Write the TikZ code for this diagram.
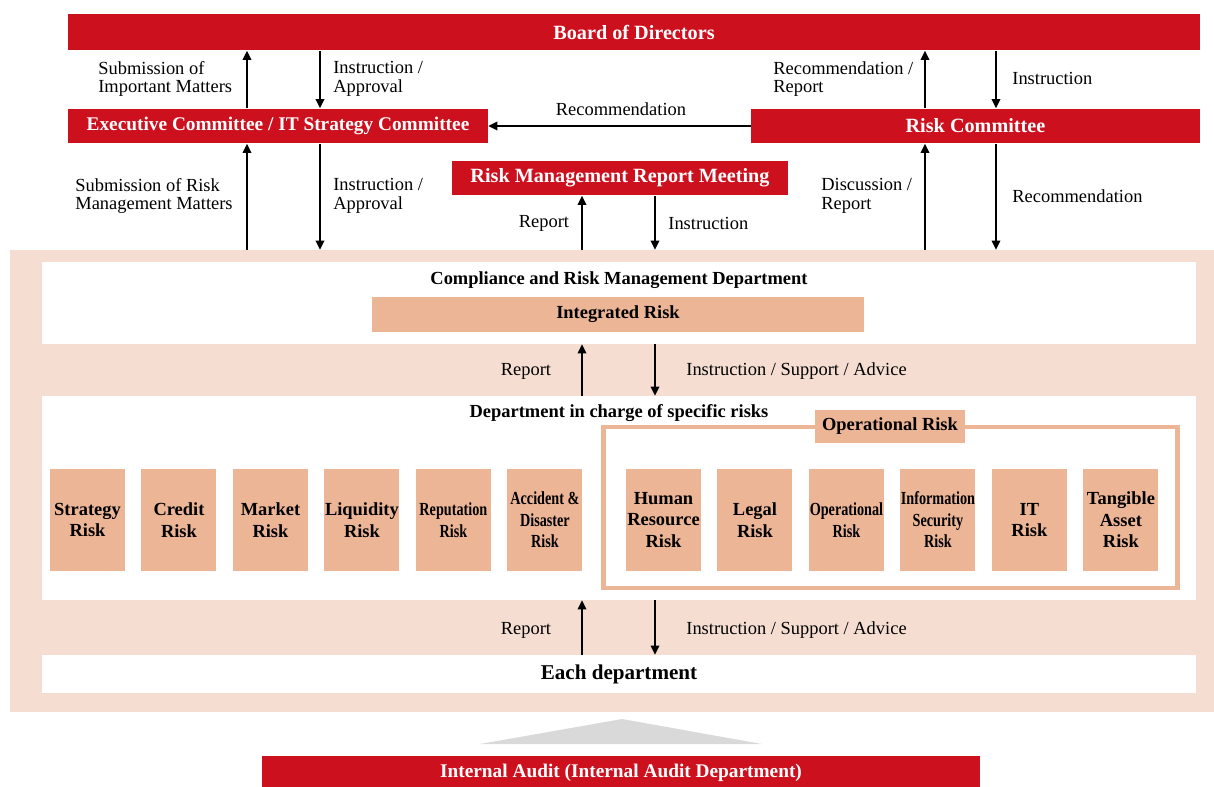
\documentclass[tikz,border=0pt]{standalone}
\usepackage{fontspec}
\setmainfont{Liberation Serif}
\newfontfamily\narrowserif[FakeStretch=0.77]{Liberation Serif}
\usetikzlibrary{arrows.meta}
\usetikzlibrary{positioning}
\definecolor{boardred}{RGB}{205,16,30}
\definecolor{riskpeach}{RGB}{236,181,150}
\definecolor{bgpeach}{RGB}{245,222,209}
\definecolor{auditgray}{RGB}{217,217,217}
\tikzset{%
  flow/.style = {-{Triangle[length=5.2pt,width=5pt]},line width=0.7pt},
  redbar/.style = {rectangle,fill=boardred,text=white,inner sep=0pt,
        font=\fontsize{11.5pt}{13pt}\selectfont\bfseries},
  panel/.style = {rectangle,fill=white,inner sep=0pt,minimum width=23.08cm},
  riskbox/.style = {rectangle,fill=riskpeach,inner sep=0pt,outer sep=0pt,align=center,
        minimum width=1.5cm,minimum height=2.04cm,
        font=\fontsize{10.5pt}{12.2pt}\selectfont\bfseries},
  lbl/.style = {inner sep=0pt,align=left,
        font=\fontsize{10.5pt}{10.5pt}\selectfont},
  head/.style = {inner sep=0pt,font=\fontsize{10.5pt}{12pt}\selectfont\bfseries}
}

\begin{document}
\begin{tikzpicture}[x=0.02cm,y=-0.02cm,node distance=0.33cm]
   \useasboundingbox (0,0) rectangle (1214,787);
   % columns of the vertical arrows
   \coordinate (colA) at (247,0);
   \coordinate (colB) at (320,0);
   \coordinate (colC) at (582,0);
   \coordinate (colD) at (655,0);
   \coordinate (colE) at (925,0);
   \coordinate (colF) at (996,0);

   \node[redbar,minimum width=22.64cm,minimum height=0.74cm] (board) at (634,32) {Board of Directors};
   \node[redbar,minimum width=8.4cm,minimum height=0.7cm,font=\fontsize{11pt}{13pt}\selectfont\bfseries] (exec) at (278,126) {Executive Committee / IT Strategy Committee};
   \node[redbar,minimum width=8.98cm,minimum height=0.7cm] (riskc) at (975.5,126) {Risk Committee};
   \node[redbar,minimum width=6.72cm,minimum height=0.7cm] (meeting) at (620,178) {Risk Management Report Meeting};

   \node[rectangle,fill=bgpeach,inner sep=0pt,minimum width=24.08cm,minimum height=9.24cm] (bg) at (612,481) {};
   \node[panel,minimum height=1.64cm] (crm) at (619,303) {};
   \node[head] (crmtitle) at (619,280) {Compliance and Risk Management Department};
   \node[rectangle,fill=riskpeach,inner sep=0pt,minimum width=9.84cm,minimum height=0.7cm,
         font=\fontsize{10.5pt}{12pt}\selectfont\bfseries] (integ) at (618,314.5) {Integrated Risk};
   \node[panel,minimum height=4.08cm] (spec) at (619,498) {};
   \node[head] (spectitle) at (619,413) {Department in charge of specific risks};
   \node[panel,minimum height=0.76cm,font=\fontsize{12pt}{14pt}\selectfont\bfseries] (each) at (619,674) {Each department};

   \node[rectangle,draw=riskpeach,line width=2.8pt,minimum width=11.5cm,minimum height=3.22cm] (opframe) at (890.5,507.5) {};
   \node[rectangle,fill=riskpeach,inner sep=0pt,minimum width=3cm,minimum height=0.66cm,
         font=\fontsize{10.5pt}{12pt}\selectfont\bfseries] (oplabel) at (890,426.5) {Operational Risk};

   \node[riskbox] (strategy) at (87.5,520) {Strategy\\Risk};
   \node[riskbox] (credit) [right=of strategy] {Credit\\Risk};
   \node[riskbox] (market) [right=of credit] {Market\\Risk};
   \node[riskbox] (liquidity) [right=of market] {Liquidity\\Risk};
   \node[riskbox] (reputation) [right=of liquidity] {\narrowserif\bfseries Reputation\\\narrowserif\bfseries Risk};
   \node[riskbox] (accident) [right=of reputation] {\narrowserif\bfseries Accident \&\\\narrowserif\bfseries Disaster\\\narrowserif\bfseries Risk};

   \node[riskbox] (human) at (663.5,520) {Human\\Resource\\Risk};
   \node[riskbox] (legal) [right=of human] {Legal\\Risk};
   \node[riskbox] (operational) [right=of legal] {\narrowserif\bfseries Operational\\\narrowserif\bfseries Risk};
   \node[riskbox] (infosec) [right=of operational] {\narrowserif\bfseries Information\\\narrowserif\bfseries Security\\\narrowserif\bfseries Risk};
   \node[riskbox] (itrisk) [right=of infosec] {IT\\Risk};
   \node[riskbox] (tangible) [right=of itrisk] {Tangible\\Asset\\Risk};

   \fill[auditgray] (480,744) -- (622,719) -- (762,744) -- cycle;
   \node[redbar,minimum width=14.36cm,minimum height=0.68cm,font=\fontsize{11pt}{13pt}\selectfont\bfseries] (audit) at (621,773) {Internal Audit (Internal Audit Department)};

   \draw[flow] (exec.north -| colA) -- (board.south -| colA);
   \draw[flow] (board.south -| colB) -- (exec.north -| colB);
   \draw[flow] (riskc.north -| colE) -- (board.south -| colE);
   \draw[flow] (board.south -| colF) -- (riskc.north -| colF);
   \draw[flow] (riskc.west) -- (exec.east);
   \draw[flow] (bg.north -| colA) -- (exec.south -| colA);
   \draw[flow] (exec.south -| colB) -- (bg.north -| colB);
   \draw[flow] (bg.north -| colC) -- (meeting.south -| colC);
   \draw[flow] (meeting.south -| colD) -- (bg.north -| colD);
   \draw[flow] (bg.north -| colE) -- (riskc.south -| colE);
   \draw[flow] (riskc.south -| colF) -- (bg.north -| colF);
   \draw[flow] (spec.north -| colC) -- (crm.south -| colC);
   \draw[flow] (crm.south -| colD) -- (spec.north -| colD);
   \draw[flow] (each.north -| colC) -- (spec.south -| colC);
   \draw[flow] (spec.south -| colD) -- (each.north -| colD);

   \node[lbl,anchor=west] (subimp) at (98,79) {Submission of\\Important Matters};
   \node[lbl,anchor=west] (instappa) at (333,79) {Instruction /\\Approval};
   \node[lbl,anchor=west] (recrep) at (773,79) {Recommendation /\\Report};
   \node[lbl,anchor=west] (instbd) at (1012,78) {Instruction};
   \node[lbl] (recexec) at (621,109) {Recommendation};
   \node[lbl,anchor=west] (subrisk) at (75,196) {Submission of Risk\\Management Matters};
   \node[lbl,anchor=west] (instappb) at (333,196) {Instruction /\\Approval};
   \node[lbl] (repmeet) at (544,223) {Report};
   \node[lbl,anchor=west] (instmeet) at (668,223) {Instruction};
   \node[lbl,anchor=west] (discrep) at (821,196) {Discussion /\\Report};
   \node[lbl,anchor=west] (recrc) at (1012,196) {Recommendation};
   \node[lbl] (repcrm) at (526,371) {Report};
   \node[lbl,anchor=west] (instcrm) at (686,371) {Instruction / Support / Advice};
   \node[lbl] (repeach) at (526,630) {Report};
   \node[lbl,anchor=west] (insteach) at (686,630) {Instruction / Support / Advice};
\end{tikzpicture}
\end{document}
